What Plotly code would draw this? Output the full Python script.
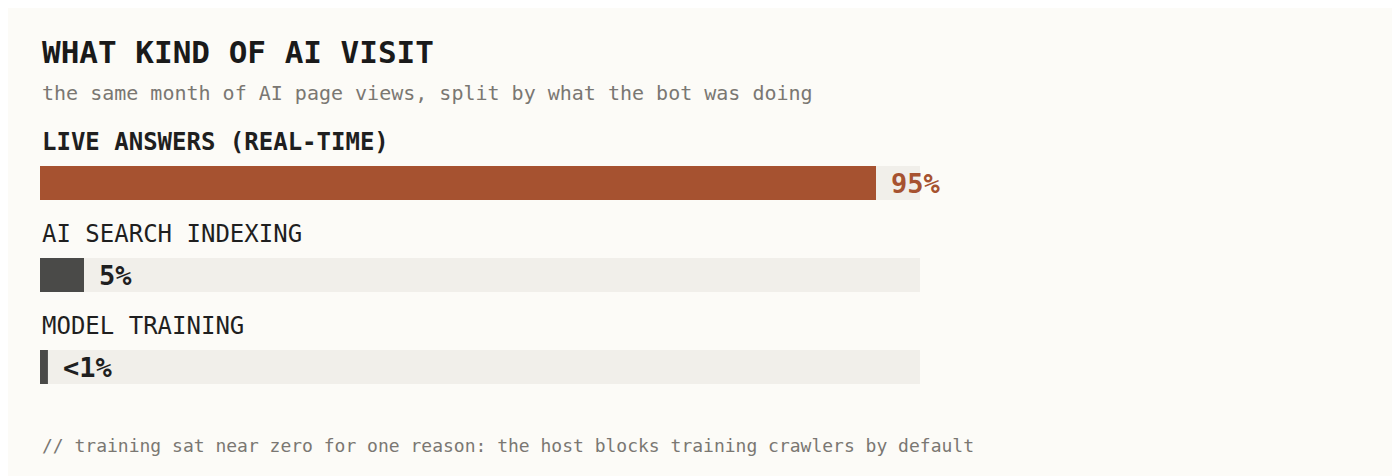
import plotly.graph_objects as go

categories = ["LIVE ANSWERS (REAL-TIME)", "AI SEARCH INDEXING", "MODEL TRAINING"]
values = [95, 5, 0.9]
value_labels = ["95%", "5%", "<1%"]
bar_colors = ["#a65230", "#4a4a48", "#4a4a48"]
label_colors = ["#a65230", "#1f1f1f", "#1f1f1f"]
label_weights = ["bold", "normal", "normal"]

W, H = 1400, 476
OFF = 8  # page body margin
FONT = "DejaVu Sans Mono"
centers = [183, 275, 367]
left = (40 - OFF) / W

fig = go.Figure()
fig.add_trace(go.Bar(x=[100] * 3, y=centers, orientation="h", width=34,
                     marker=dict(color="#f1efea", line=dict(width=0)), hoverinfo="skip"))
fig.add_trace(go.Bar(x=values, y=centers, orientation="h", width=34,
                     marker=dict(color=bar_colors, line=dict(width=0)),
                     hovertext=categories, hoverinfo="text+x"))

for c, v, lab, col, cat, w in zip(centers, values, value_labels, label_colors, categories, label_weights):
    fig.add_annotation(x=v, y=c, text=f"<b>{lab}</b>", showarrow=False, xanchor="left",
                       xshift=13, font=dict(family=FONT, size=27, color=col))
    txt = f"<b>{cat}</b>" if w == "bold" else cat
    fig.add_annotation(x=left, xref="paper", y=c - 41, text=txt, showarrow=False,
                       xanchor="left", yanchor="middle", font=dict(family=FONT, size=24, color="#1f1f1f"))

fig.add_annotation(x=left, xref="paper", y=52, text="<b>WHAT KIND OF AI VISIT</b>", showarrow=False,
                   xanchor="left", yanchor="middle", font=dict(family=FONT, size=31, color="#1a1a1a"))
fig.add_annotation(x=left, xref="paper", y=93, text="the same month of AI page views, split by what the bot was doing",
                   showarrow=False, xanchor="left", yanchor="middle", font=dict(family=FONT, size=20, color="#7a7772"))
fig.add_annotation(x=left, xref="paper", y=445,
                   text="// training sat near zero for one reason: the host blocks training crawlers by default",
                   showarrow=False, xanchor="left", yanchor="middle", font=dict(family=FONT, size=18, color="#7a7772"))

fig.update_layout(
    width=W, height=H, barmode="overlay", showlegend=False,
    margin=dict(l=0, r=0, t=0, b=0),
    paper_bgcolor="#fcfbf7", plot_bgcolor="#fcfbf7",
    xaxis=dict(domain=[left, (920 - OFF) / W], range=[0, 100], visible=False, fixedrange=True),
    yaxis=dict(range=[H + OFF, OFF], visible=False, fixedrange=True),
)
fig.write_html("out.html")
